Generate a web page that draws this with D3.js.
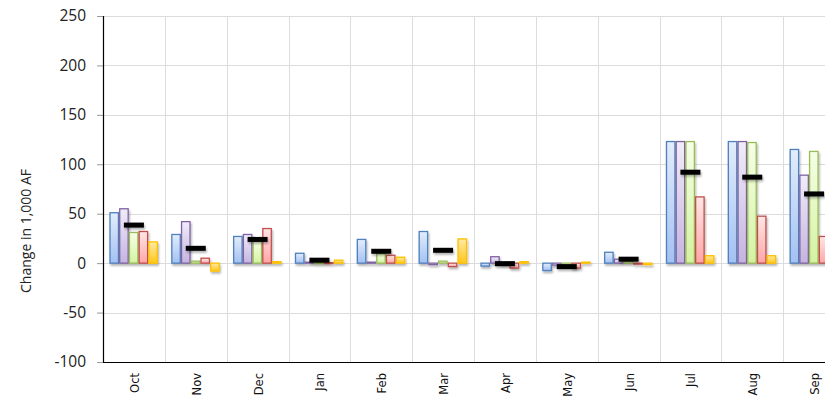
<!DOCTYPE html>
<html>
<head>
<meta charset="utf-8">
<script src="https://cdn.jsdelivr.net/npm/d3@7"></script>
<style>
  html, body { margin: 0; padding: 0; background: #fff; overflow: hidden; }
  svg { display: block; }
</style>
</head>
<body>
<svg id="chart" width="825" height="398"></svg>
<script>
// Monthly change in storage (1,000 AF), water year Oct–Sep
const months = ["Oct", "Nov", "Dec", "Jan", "Feb", "Mar", "Apr", "May", "Jun", "Jul", "Aug", "Sep"];

const series1 = [51, 29, 27, 10, 24, 32, -3, -7.5, 11, 123, 123, 115];
const series2 = [55, 42, 29, 1, 1, -1.5, 6.5, -2, 4, 123, 123, 89];
const series3 = [31, 2, 22, 0.5, 9.5, 2, -1, -2, 2, 123, 122, 113];
const series4 = [32, 5, 35, 0.5, 8, -3.5, -5, -5, -1, 67, 47.5, 27];
const series5 = [21.5, -8, 1.5, 3, 6, 24.5, 1.5, 1, -1.5, 7.5, 7.5, 7];
const average = [38.5, 15, 24, 3, 12, 13, -0.5, -3.5, 4, 92, 87, 70];

const yTicks = [-100, -50, 0, 50, 100, 150, 200, 250];
const yLabel = "Change in 1,000 AF";

const seriesList = [series1, series2, series3, series4, series5];
const seriesStyle = [
  { stroke: "#4f81bd", top: "#e3edfc", bottom: "#a3c1f2" },
  { stroke: "#8064a2", top: "#f1ecf9", bottom: "#c4b4e0" },
  { stroke: "#9bbb59", top: "#f6ffe6", bottom: "#d3f3a1" },
  { stroke: "#c0504d", top: "#ffe6e6", bottom: "#ffa6a6" },
  { stroke: "#ffc000", top: "#ffe9a6", bottom: "#ffc71a" }
];

const svg = d3.select("#chart");
const plotLeft = 103, plotTop = 16, plotBottom = 362, plotRight = 845;

const x = d3.scaleBand().domain(months).range([plotLeft, plotRight]).padding(0);
const xs = d3.scaleBand().domain(d3.range(5))
  .range([7, x.bandwidth() - 7.5]).paddingInner(0.13).paddingOuter(0);
const y = d3.scaleLinear().domain([-100, 250]).range([plotBottom, plotTop]);

const defs = svg.append("defs");
seriesStyle.forEach((s, i) => {
  const g = defs.append("linearGradient").attr("id", "grad" + i)
    .attr("x1", 0).attr("y1", 0).attr("x2", 0).attr("y2", 1);
  g.append("stop").attr("offset", "0%").attr("stop-color", s.top);
  g.append("stop").attr("offset", "100%").attr("stop-color", s.bottom);
});
const shadow = defs.append("filter").attr("id", "shadow")
  .attr("x", "-50%").attr("y", "-50%").attr("width", "200%").attr("height", "200%");
shadow.append("feDropShadow").attr("dx", 1).attr("dy", 2)
  .attr("stdDeviation", 1.3).attr("flood-color", "#000").attr("flood-opacity", 0.3);

// Gridlines
const grid = svg.append("g");
grid.selectAll("line.h").data(yTicks.filter(t => t > -100)).join("line")
  .attr("x1", plotLeft).attr("x2", plotRight)
  .attr("y1", d => Math.round(y(d)) + 0.5).attr("y2", d => Math.round(y(d)) + 0.5)
  .attr("stroke", "#dcdcdc").attr("stroke-width", 1);
grid.selectAll("line.v").data(months.slice(1)).join("line")
  .attr("x1", d => Math.round(x(d)) + 0.5).attr("x2", d => Math.round(x(d)) + 0.5)
  .attr("y1", plotTop).attr("y2", plotBottom)
  .attr("stroke", "#dcdcdc").attr("stroke-width", 1);

// Bars
const bars = svg.append("g");
seriesList.forEach((vals, si) => {
  bars.append("g").attr("filter", "url(#shadow)")
    .selectAll("rect").data(vals.map((v, i) => ({ m: months[i], v }))).join("rect")
    .attr("x", d => x(d.m) + xs(si))
    .attr("width", xs.bandwidth())
    .attr("y", d => y(Math.max(0, d.v)))
    .attr("height", d => Math.max(1, Math.abs(y(d.v) - y(0))))
    .attr("fill", "url(#grad" + si + ")")
    .attr("stroke", seriesStyle[si].stroke)
    .attr("stroke-width", 1.3);
});

// Average markers
svg.append("g").attr("filter", "url(#shadow)")
  .selectAll("rect").data(average.map((v, i) => ({ m: months[i], v }))).join("rect")
  .attr("x", d => x(d.m) + x.bandwidth() / 2 - 10)
  .attr("width", 20)
  .attr("y", d => y(d.v) - 2.5)
  .attr("height", 5)
  .attr("fill", "#000");

// Axes
const yAxis = svg.append("g").attr("transform", `translate(${plotLeft},0)`)
  .call(d3.axisLeft(y).tickValues(yTicks).tickSize(6).tickPadding(11).tickFormat(d => String(d)));
yAxis.select(".domain").attr("stroke", "#000").attr("stroke-width", 1.2);
yAxis.selectAll(".tick line").attr("stroke", "#999");
yAxis.selectAll("text").attr("font-family", "'Open Sans', sans-serif")
  .attr("font-size", "15.5px").attr("fill", "#222");

svg.append("line").attr("x1", plotLeft).attr("x2", plotRight)
  .attr("y1", plotBottom + 0.5).attr("y2", plotBottom + 0.5)
  .attr("stroke", "#000").attr("stroke-width", 1.2);

svg.append("g").selectAll("text").data(months).join("text")
  .attr("transform", d => `translate(${x(d) + x.bandwidth() / 2 + 5},373) rotate(-90)`)
  .attr("text-anchor", "end")
  .attr("font-family", "'DejaVu Sans', sans-serif")
  .attr("font-size", "11.5px")
  .attr("fill", "#111")
  .text(d => d);

svg.append("text")
  .attr("transform", "translate(31,231) rotate(-90)")
  .attr("text-anchor", "middle")
  .attr("font-family", "'Open Sans', sans-serif")
  .attr("font-size", "14px")
  .attr("fill", "#222")
  .text(yLabel);
</script>
</body>
</html>
